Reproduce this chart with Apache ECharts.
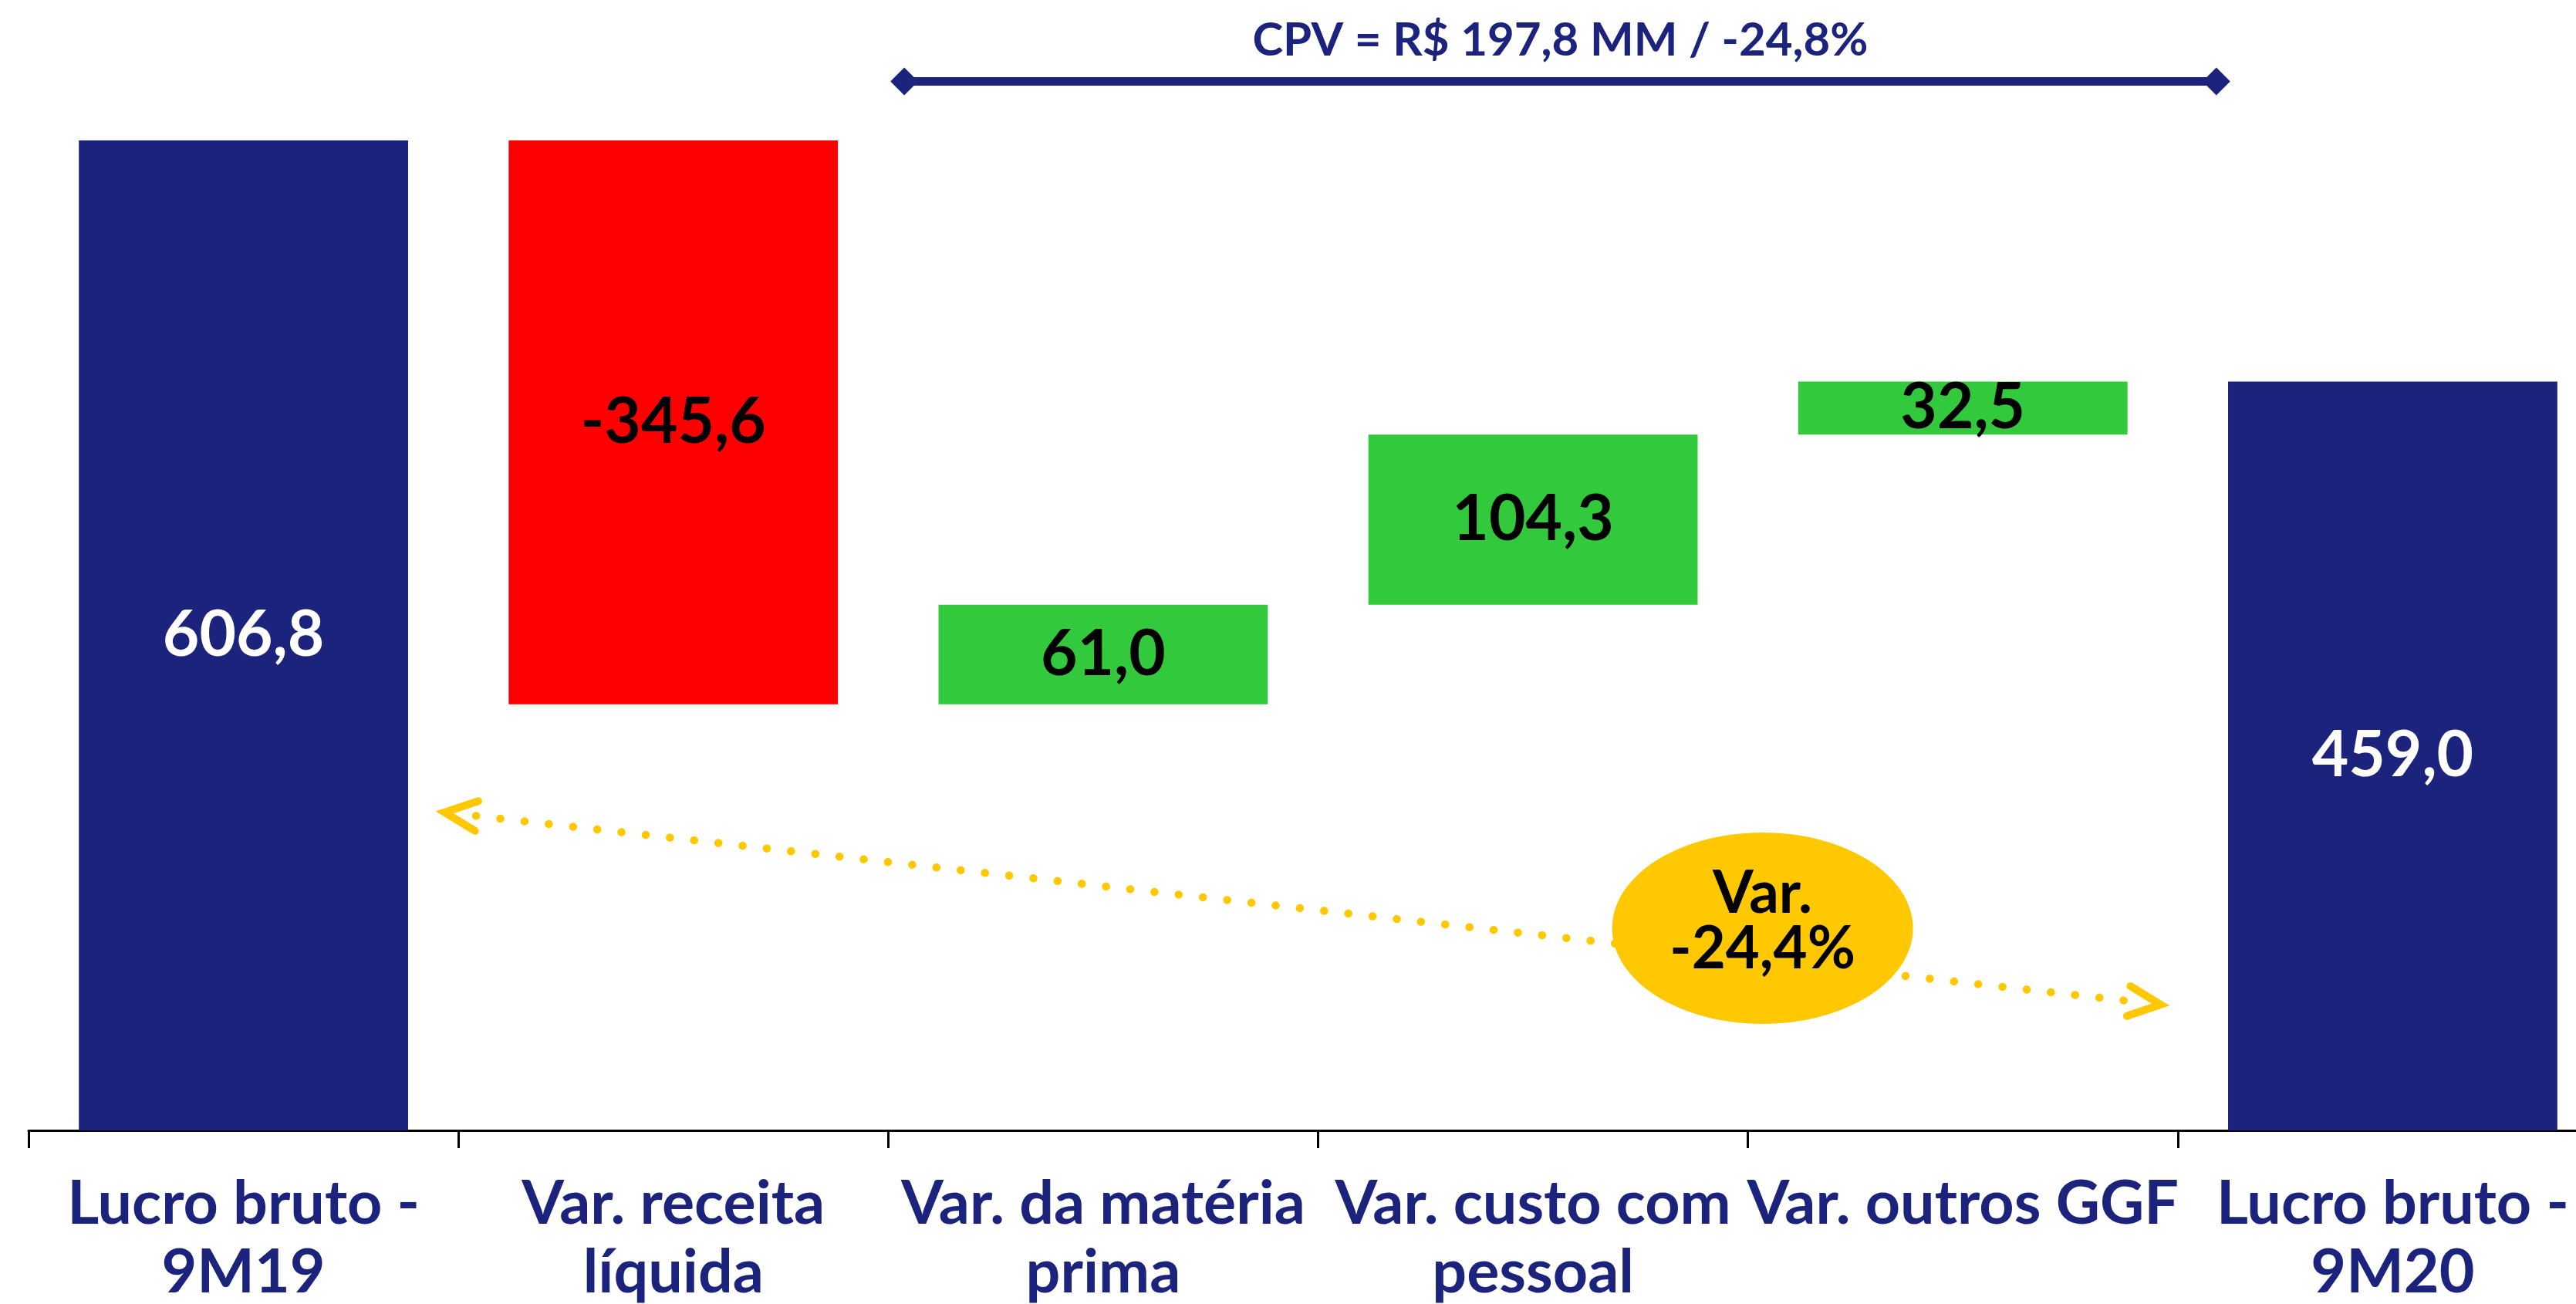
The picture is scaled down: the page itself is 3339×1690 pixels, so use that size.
<!DOCTYPE html>
<html>
<head>
<meta charset="utf-8">
<title>Lucro bruto 9M19 x 9M20</title>
<script src="https://cdn.jsdelivr.net/npm/echarts@6/dist/echarts.min.js"></script>
<style>
  html, body { margin: 0; padding: 0; background: #ffffff; }
  #chart { width: 3339px; height: 1690px; }
</style>
</head>
<body>
<div id="chart"></div>
<script>
// categorias e variações (R$ MM)
const categories = [
  'Lucro bruto -\n9M19',
  'Var. receita\nlíquida',
  'Var. da matéria\nprima',
  'Var. custo com\npessoal',
  'Var. outros GGF',
  'Lucro bruto -\n9M20'
];
const values = [606.8, -345.6, 61.0, 104.3, 32.5, 459.0];
const valueLabels = ['606,8', '-345,6', '61,0', '104,3', '32,5', '459,0'];
const kinds = ['total', 'delta', 'delta', 'delta', 'delta', 'total'];

const cpvText = 'CPV = R$ 197,8 MM / -24,8%';
const varText = 'Var.\n-24,4%';

const NAVY = '#1B237D';
const RED = '#FF0000';
const GREEN = '#33C93D';
const YELLOW = '#FFC800';
const FONT = 'Lato';

// base invisível + altura de cada barra (waterfall)
const base = [];
const heights = [];
let running = 0;
values.forEach((v, i) => {
  if (kinds[i] === 'total') {
    base.push(0);
    heights.push(v);
    running = v;
  } else if (v < 0) {
    base.push(running + v);
    heights.push(-v);
    running += v;
  } else {
    base.push(running);
    heights.push(v);
    running += v;
  }
});

function barColor(i) {
  if (kinds[i] === 'total') return NAVY;
  return values[i] < 0 ? RED : GREEN;
}

const chart = echarts.init(document.getElementById('chart'));

const option = {
  animation: false,
  backgroundColor: '#ffffff',
  grid: {
    left: 37,
    right: -41,
    top: 6,
    bottom: 225,
    containLabel: false,
    outerBoundsMode: 'none'
  },
  xAxis: {
    type: 'category',
    data: categories,
    axisLine: { show: true, lineStyle: { color: '#000000', width: 3 } },
    axisTick: { show: true, length: 23, lineStyle: { color: '#000000', width: 3 } },
    axisLabel: {
      interval: 0,
      margin: 51,
      color: NAVY,
      fontFamily: FONT,
      fontWeight: 'bold',
      fontSize: 79,
      lineHeight: 89
    }
  },
  yAxis: {
    type: 'value',
    min: 0,
    max: 690,
    show: false,
    splitLine: { show: false }
  },
  series: [
    {
      name: 'base',
      type: 'bar',
      stack: 'w',
      silent: true,
      barWidth: '76.6%',
      itemStyle: { color: 'transparent' },
      data: base
    },
    {
      name: 'valor',
      type: 'bar',
      stack: 'w',
      barWidth: '76.6%',
      data: heights.map((h, i) => ({
        value: h,
        itemStyle: { color: barColor(i) },
        label: { color: kinds[i] === 'total' ? '#ffffff' : '#000000' }
      })),
      label: {
        show: true,
        position: 'inside',
        fontFamily: FONT,
        fontWeight: 'bold',
        fontSize: 82,
        formatter: p => valueLabels[p.dataIndex]
      }
    }
  ]
};

chart.setOption(option);

// anotações ancoradas nos eixos
const c0 = chart.convertToPixel({ xAxisIndex: 0 }, 0);
const c1 = chart.convertToPixel({ xAxisIndex: 0 }, 1);
const catW = c1 - c0;
const x0 = c0 - catW / 2;
const xAt = u => x0 + u * catW;
const yAt = v => chart.convertToPixel({ yAxisIndex: 0 }, v);

// chave do CPV
const brL = xAt(2.005), brR = xAt(5.122), brY = yAt(643);
const dia = 18;
function diamond(cx, cy) {
  return {
    type: 'polygon', z: 20,
    shape: { points: [[cx - dia, cy], [cx, cy - dia], [cx + dia, cy], [cx, cy + dia]] },
    style: { fill: NAVY }
  };
}

// seta pontilhada
const tipL = [xAt(0.968), yAt(194.9)];
const tipR = [xAt(4.960), yAt(77.1)];
const len = Math.hypot(tipR[0] - tipL[0], tipR[1] - tipL[1]);
const dir = [(tipR[0] - tipL[0]) / len, (tipR[1] - tipL[1]) / len];
function rot(v, a) {
  return [v[0] * Math.cos(a) - v[1] * Math.sin(a), v[0] * Math.sin(a) + v[1] * Math.cos(a)];
}
function chevron(tip, d) {
  const arm = 46, a = 25 * Math.PI / 180;
  const p1 = rot(d, a), p2 = rot(d, -a);
  return {
    type: 'polyline', z: 20,
    shape: { points: [[tip[0] + p1[0] * arm, tip[1] + p1[1] * arm], tip, [tip[0] + p2[0] * arm, tip[1] + p2[1] * arm]] },
    style: { stroke: YELLOW, lineWidth: 10, lineCap: 'round', lineJoin: 'miter', fill: null }
  };
}
const gap = 41;
const ellCx = xAt(4.034), ellCy = yAt(123.9);

chart.setOption({
  graphic: [
    {
      type: 'line', z: 20,
      shape: { x1: brL + dia, y1: brY, x2: brR - dia, y2: brY },
      style: { stroke: NAVY, lineWidth: 11 }
    },
    diamond(brL + dia, brY),
    diamond(brR - dia, brY),
    {
      type: 'text', z: 20,
      style: {
        text: cpvText,
        x: (brL + brR) / 2,
        y: yAt(668),
        align: 'center',
        verticalAlign: 'middle',
        fill: NAVY,
        fontFamily: FONT,
        fontWeight: 'bold',
        fontSize: 60
      }
    },
    {
      type: 'line', z: 20,
      shape: {
        x1: tipL[0] + dir[0] * gap, y1: tipL[1] + dir[1] * gap,
        x2: tipR[0] - dir[0] * gap, y2: tipR[1] - dir[1] * gap
      },
      style: { stroke: YELLOW, lineWidth: 10.5, lineCap: 'round', lineDash: [0.1, 31.5] }
    },
    chevron(tipL, dir),
    chevron(tipR, [-dir[0], -dir[1]]),
    {
      type: 'ellipse', z: 21,
      shape: { cx: ellCx, cy: ellCy, rx: 195, ry: 124 },
      style: { fill: YELLOW }
    },
    {
      type: 'text', z: 22,
      style: {
        text: varText,
        x: ellCx,
        y: ellCy - 9,
        align: 'center',
        verticalAlign: 'middle',
        fill: '#000000',
        fontFamily: FONT,
        fontWeight: 'bold',
        fontSize: 76,
        lineHeight: 72
      }
    }
  ]
});

window.addEventListener('resize', () => chart.resize());
</script>
</body>
</html>
